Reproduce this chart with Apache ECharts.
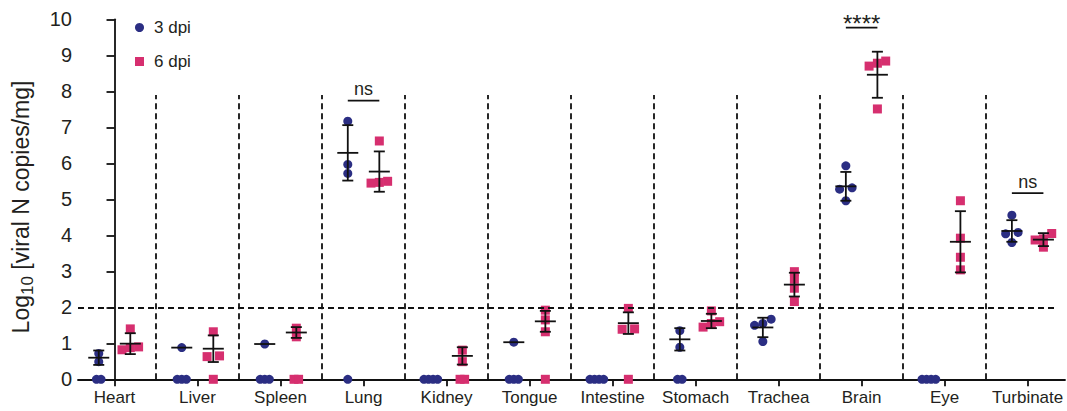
<!DOCTYPE html>
<html><head><meta charset="utf-8">
<script src="https://cdn.jsdelivr.net/npm/echarts@6/dist/echarts.min.js"></script>
<style>html,body{margin:0;padding:0;background:#fff}#c{width:1067px;height:411px}</style>
</head><body><div id="c"></div>
<script>
// ---------------- data ----------------
const categories = ['Heart','Liver','Spleen','Lung','Kidney','Tongue','Intestine','Stomach','Trachea','Brain','Eye','Turbinate'];
const seriesNames = ['3 dpi','6 dpi'];
const dpi3Values = [
  [0,0,0.49,0.72],
  [0,0,0,0.88],
  [0,0,0,0.98],
  [0,5.72,5.97,7.17],
  [0,0,0,0],
  [0,0,0,1.03],
  [0,0,0,0],
  [0,0,0.89,1.35],
  [1.05,1.5,1.55,1.67],
  [4.96,5.28,5.32,5.93],
  [0,0,0,0],
  [3.8,4.04,4.08,4.56]
];
const dpi6Values = [
  [0.82,0.88,0.9,1.4],
  [0,0.63,0.65,1.32],
  [0,0,1.18,1.42],
  [5.45,5.47,5.5,6.62],
  [0,0,0.49,0.81],
  [0,1.32,1.65,1.92],
  [0,1.39,1.4,1.97],
  [1.45,1.55,1.6,1.9],
  [2.16,2.53,2.78,2.99],
  [7.51,8.7,8.78,8.84],
  [3.04,3.39,3.92,4.96],
  [3.67,3.87,3.9,4.05]
];
const dpi3Mean = [0.6,0.88,0.98,6.29,null,1.03,null,1.11,1.44,5.36,null,4.12];
const dpi3Err  = [0.2,0,0,0.77,null,0,null,0.31,0.27,0.4,null,0.3];
const dpi6Mean = [0.99,0.85,1.3,5.77,0.65,1.61,1.56,1.62,2.63,8.46,3.82,3.88];
const dpi6Err  = [0.29,0.37,0.15,0.56,0.24,0.29,0.3,0.2,0.33,0.64,0.85,0.18];
const sigCategories = ['Lung','Brain','Turbinate'];
const sigLabels = ['ns','****','ns'];
const sigHeights = [7.74,9.77,5.17];
const detectionLimit = 2;
const dividerTop = 7.9;
const yMin = 0, yMax = 10, yStep = 1;

// ---------------- layout / style ----------------
const BLUE = '#2b2e83', PINK = '#d62f6f', INK = '#111111', TXT = '#231f20';
const FONT = 'Liberation Sans, Arial, Helvetica, sans-serif';
const OFF = 0.19;          // group offset from category centre
const X_MIN = -0.44, X_MAX = 11.45;

function swarm(vals, center) {
  const idx = vals.map((v, i) => i).sort((a, b) => vals[a] - vals[b]);
  const out = [];
  let cluster = [];
  const flush = () => {
    const n = cluster.length;
    const zero = cluster.every(i => vals[i] === 0);
    const step = zero ? 0.055 : (n === 2 ? 0.15 : 0.1);
    cluster.forEach((i, k) => out.push([center + (k - (n - 1) / 2) * step, vals[i]]));
    cluster = [];
  };
  idx.forEach(i => {
    if (cluster.length && vals[i] - vals[cluster[cluster.length - 1]] >= 0.18) flush();
    cluster.push(i);
  });
  flush();
  return out;
}

const pts3 = [], pts6 = [];
categories.forEach((c, i) => {
  pts3.push(...swarm(dpi3Values[i], i - OFF));
  pts6.push(...swarm(dpi6Values[i], i + OFF));
});

const bars = [];
categories.forEach((c, i) => {
  if (dpi3Mean[i] != null) bars.push([i - OFF, dpi3Mean[i], dpi3Err[i]]);
  if (dpi6Mean[i] != null) bars.push([i + OFF, dpi6Mean[i], dpi6Err[i]]);
});

function barRender(params, api) {
  const x = api.value(0), m = api.value(1), e = api.value(2);
  const pm = api.coord([x, m]);
  const hw = 10.5, cw = 5.5;
  const st = () => ({ stroke: INK, lineWidth: 1.8 });
  const ch = [{ type: 'line', shape: { x1: pm[0] - hw, y1: pm[1], x2: pm[0] + hw, y2: pm[1] }, style: st() }];
  if (e > 0) {
    const pt = api.coord([x, m + e]), pb = api.coord([x, m - e]);
    ch.push({ type: 'line', shape: { x1: pt[0], y1: pt[1], x2: pb[0], y2: pb[1] }, style: st() });
    ch.push({ type: 'line', shape: { x1: pt[0] - cw, y1: pt[1], x2: pt[0] + cw, y2: pt[1] }, style: st() });
    ch.push({ type: 'line', shape: { x1: pb[0] - cw, y1: pb[1], x2: pb[0] + cw, y2: pb[1] }, style: st() });
  }
  return { type: 'group', children: ch };
}

const sigData = sigCategories.map((c, k) => [categories.indexOf(c), sigHeights[k]]);
function sigRender(params, api) {
  const i = api.value(0), h = api.value(1);
  const lab = sigLabels[params.dataIndex];
  const p1 = api.coord([i - OFF, h]), p2 = api.coord([i + OFF, h]);
  const star = lab.indexOf('*') >= 0;
  const fs = star ? 24 : 18;
  const dy = star ? 4.5 : 11.6;
  return { type: 'group', children: [
    { type: 'line', shape: { x1: p1[0], y1: p1[1], x2: p2[0], y2: p2[1] }, style: { stroke: INK, lineWidth: 1.8 } },
    { type: 'text', x: (p1[0] + p2[0]) / 2, y: p1[1] - dy,
      style: { text: lab, fill: TXT, fontSize: fs, fontFamily: FONT, align: 'center', verticalAlign: 'middle' } }
  ]};
}

const dash = { color: INK, width: 1.8, type: [6, 4] };
const markData = [];
for (let i = 0; i < categories.length - 1; i++) {
  markData.push([{ coord: [i + 0.5, yMin] }, { coord: [i + 0.5, dividerTop] }]);
}
markData.push([{ yAxis: detectionLimit, x: 78 }, { yAxis: detectionLimit, x: 1058 }]);

const chart = echarts.init(document.getElementById('c'), null, { renderer: 'svg' });
chart.setOption({
  animation: false,
  backgroundColor: '#fff',
  textStyle: { fontFamily: FONT },
  grid: { left: 78, right: 2, top: 19.3, bottom: 31.7, containLabel: false },
  legend: {
    orient: 'vertical', left: 130, top: 14, itemWidth: 9, itemHeight: 9, itemGap: 17,
    textStyle: { fontSize: 17, color: TXT, fontFamily: FONT, padding: [0, 0, 0, 5] },
    data: [{ name: seriesNames[0], icon: 'circle' }, { name: seriesNames[1], icon: 'rect' }]
  },
  graphic: [{
    type: 'text', x: 21, y: 207, rotation: Math.PI / 2,
    style: {
      text: '{a|Log}{b|10}{a| [viral N copies/mg]}',
      align: 'center', verticalAlign: 'middle', fill: TXT,
      rich: {
        a: { fontSize: 23, lineHeight: 29, fontFamily: FONT, fill: TXT, verticalAlign: 'middle' },
        b: { fontSize: 17, fontFamily: FONT, fill: TXT, verticalAlign: 'bottom' }
      }
    }
  }],
  xAxis: {
    type: 'value', min: X_MIN, max: X_MAX,
    axisLine: { show: true, onZero: false, lineStyle: { color: INK, width: 1.8 } },
    axisTick: { show: true, length: 7, customValues: categories.map((c, i) => i), lineStyle: { color: INK, width: 1.8 } },
    axisLabel: { customValues: categories.map((c, i) => i), formatter: v => categories[Math.round(v)] || '',
      fontSize: 17, color: TXT, margin: 10, fontFamily: FONT },
    splitLine: { show: false }
  },
  yAxis: {
    type: 'value', min: yMin, max: yMax, interval: yStep,
    axisLine: { show: true, lineStyle: { color: INK, width: 1.8 } },
    axisTick: { show: true, length: 8, lineStyle: { color: INK, width: 1.8 } },
    axisLabel: { fontSize: 20, color: TXT, margin: 6, fontFamily: FONT },
    splitLine: { show: false }
  },
  series: [
    { type: 'custom', name: 'guides', renderItem: () => ({ type: 'group', children: [] }), data: [[0, 0]], silent: true,
      markLine: { silent: true, symbol: ['none', 'none'], label: { show: false }, lineStyle: dash, data: markData } },
    { type: 'scatter', name: seriesNames[0], data: pts3, symbol: 'circle', symbolSize: 9, clip: false,
      itemStyle: { color: BLUE, opacity: 1 }, z: 3 },
    { type: 'scatter', name: seriesNames[1], data: pts6, symbol: 'rect', symbolSize: 9, clip: false,
      itemStyle: { color: PINK, opacity: 1 }, z: 3 },
    { type: 'custom', name: 'mean ± SD', renderItem: barRender, data: bars, z: 4, clip: false, silent: true },
    { type: 'custom', name: 'significance', renderItem: sigRender, data: sigData, z: 4, clip: false, silent: true }
  ]
});
</script>
</body></html>
